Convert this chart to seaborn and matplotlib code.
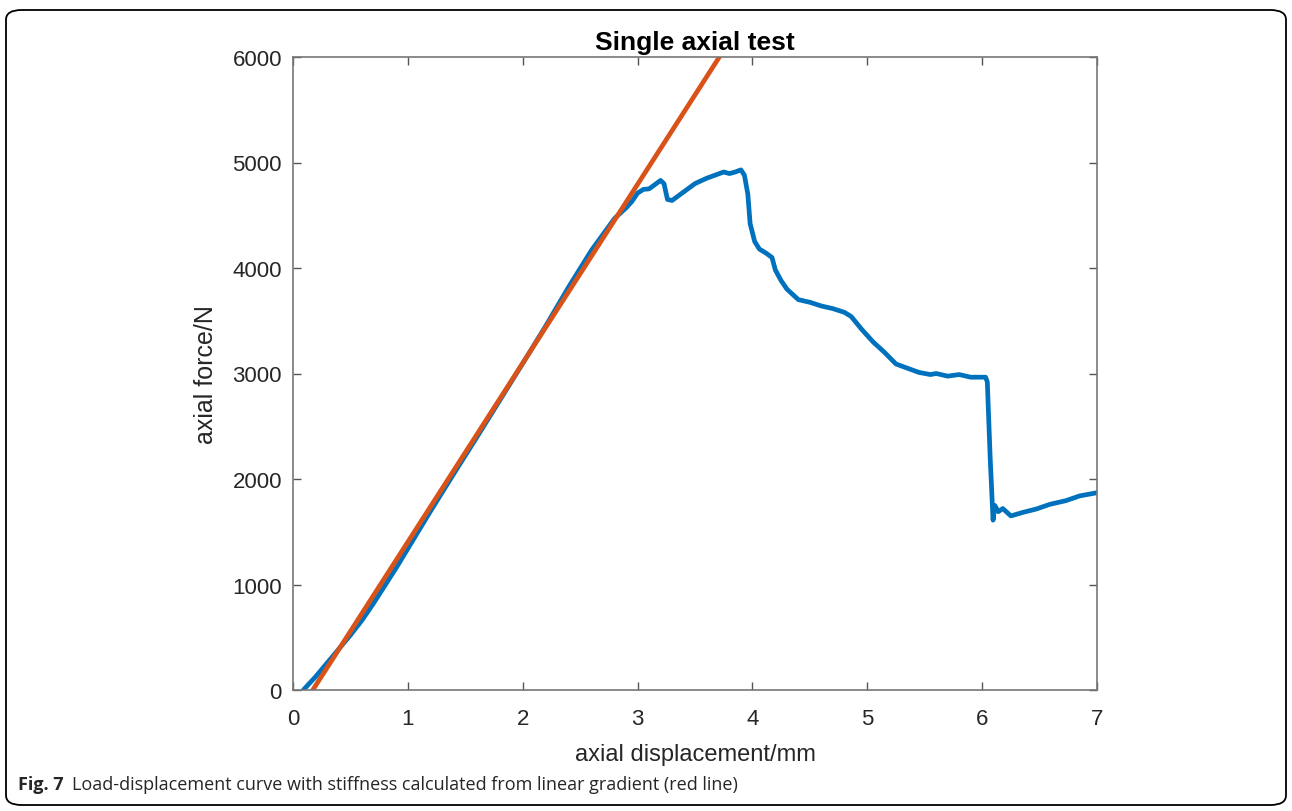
import matplotlib
matplotlib.use("Agg")
import matplotlib.pyplot as plt
from matplotlib.patches import FancyBboxPatch
import seaborn as sns
import pandas as pd

# ---- data ----
disp = [0.09, 0.2, 0.3, 0.4, 0.5, 0.6, 0.7, 0.8, 0.9, 1.0, 1.2, 1.4, 1.6, 1.8, 2.0,
        2.2, 2.4, 2.6, 2.7, 2.8, 2.9, 2.95, 3.0, 3.05, 3.1, 3.15, 3.2, 3.23, 3.26,
        3.3, 3.4, 3.5, 3.6, 3.7, 3.75, 3.8, 3.85, 3.9, 3.93, 3.96, 3.98, 4.02, 4.06,
        4.12, 4.17, 4.2, 4.25, 4.3, 4.4, 4.5, 4.6, 4.7, 4.8, 4.86, 4.95, 5.05, 5.15,
        5.25, 5.35, 5.45, 5.55, 5.6, 5.7, 5.8, 5.9, 6.03, 6.045, 6.07, 6.095, 6.11,
        6.14, 6.18, 6.25, 6.36, 6.47, 6.59, 6.73, 6.85, 7.0]
force = [0, 130, 260, 390, 520, 660, 820, 990, 1160, 1340, 1700, 2050, 2395, 2745, 3095,
         3450, 3820, 4170, 4320, 4470, 4570, 4630, 4710, 4745, 4750, 4790, 4830, 4800, 4650,
         4640, 4720, 4800, 4850, 4890, 4910, 4895, 4910, 4930, 4880, 4700, 4420, 4250, 4180,
         4140, 4100, 3980, 3880, 3800, 3700, 3675, 3640, 3615, 3580, 3540, 3420, 3300, 3200,
         3090, 3050, 3010, 2990, 3000, 2975, 2990, 2965, 2965, 2920, 2200, 1610, 1750,
         1690, 1720, 1650, 1685, 1715, 1760, 1795, 1840, 1870]
fit_x = [0.172, 3.712]
fit_y = [0, 6000]

x_ticks = [0, 1, 2, 3, 4, 5, 6, 7]
y_ticks = [0, 1000, 2000, 3000, 4000, 5000, 6000]

title = "Single axial test"
xlabel = "axial displacement/mm"
ylabel = "axial force/N"
cap_bold = "Fig. 7"
cap_text = "Load-displacement curve with stiffness calculated from linear gradient (red line)"

sns.set_theme(style="white")
plt.rcParams['font.family'] = ['Liberation Sans', 'DejaVu Sans']

fig = plt.figure(figsize=(12.92, 8.12), dpi=100)
ax = fig.add_axes([293/1292, 1-691/812, (1097-293)/1292, (691-58)/812])

curve = pd.DataFrame({"x": disp, "y": force})
fit = pd.DataFrame({"x": fit_x, "y": fit_y})
sns.lineplot(data=curve, x="x", y="y", ax=ax, color="#0072BD", linewidth=3.4,
             sort=False, estimator=None)
sns.lineplot(data=fit, x="x", y="y", ax=ax, color="#D95319", linewidth=3.4,
             sort=False, estimator=None)

ax.set_xlim(0, 7)
ax.set_ylim(0, 6000)
ax.set_xticks(x_ticks)
ax.set_yticks(y_ticks)
ax.tick_params(direction="in", length=6, width=1, colors="#555555", labelcolor="#262626",
               labelsize=16, top=True, right=True, bottom=True, left=True)
ax.tick_params(axis="x", pad=13)
ax.tick_params(axis="y", pad=8)
for s in ax.spines.values():
    s.set_visible(True)
    s.set_color("#777777")
    s.set_linewidth(1.2)
ax.set_title(title, fontsize=19, fontweight="bold", color="black", pad=6)
ax.set_xlabel(xlabel, fontsize=17, color="#262626", labelpad=10)
ax.set_ylabel(ylabel, fontsize=18, color="#262626", labelpad=10)

# border frame
frame = FancyBboxPatch((6/1292, 1-806/812), (1286-6)/1292, (806-11)/812,
                       boxstyle="round,pad=0,rounding_size=0.012",
                       transform=fig.transFigure, fill=False, edgecolor="black",
                       linewidth=1.3)
fig.patches.append(frame)

fig.text(18/1292, 1-785/812, cap_bold, fontsize=13, fontweight="bold",
         family=["Open Sans", "DejaVu Sans"], va="center", ha="left")
fig.text(72/1292, 1-785/812, cap_text, fontsize=13,
         family=["Open Sans", "DejaVu Sans"], va="center", ha="left")

fig.savefig("out.png", dpi=100)
